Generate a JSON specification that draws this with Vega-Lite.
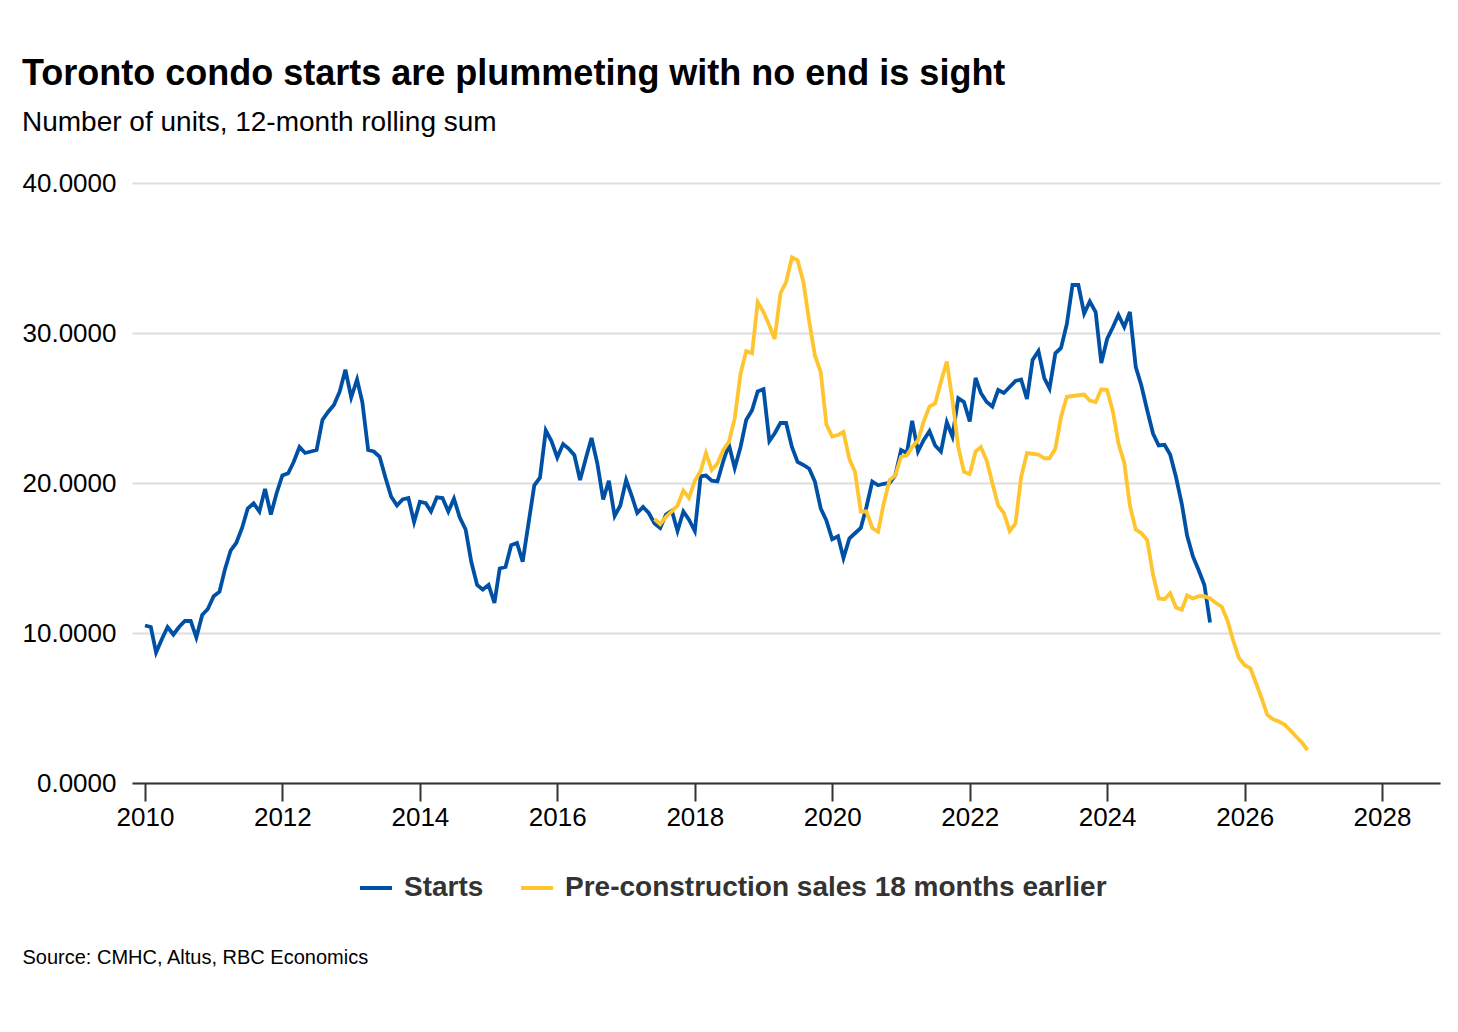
{
  "$schema": "https://vega.github.io/schema/vega-lite/v6.json",
  "width": 1308,
  "height": 600,
  "padding": {"left": 22, "top": 56, "right": 18, "bottom": 20},
  "background": "white",
  "title": {
    "text": "Toronto condo starts are plummeting with no end is sight",
    "subtitle": "Number of units, 12-month rolling sum",
    "anchor": "start",
    "frame": "bounds",
    "fontSize": 36,
    "fontWeight": "bold",
    "color": "#000000",
    "subtitleFontSize": 28,
    "subtitleColor": "#000000",
    "subtitlePadding": 16,
    "offset": 32
  },
  "config": {
    "font": "Liberation Sans",
    "view": {"stroke": null},
    "axis": {"labelColor": "#000000", "labelFont": "Liberation Sans"}
  },
  "data": {
    "values": [
      {"date": "2010/01/01", "Starts": 10.5},
      {"date": "2010/02/01", "Starts": 10.4},
      {"date": "2010/03/01", "Starts": 8.7},
      {"date": "2010/04/01", "Starts": 9.6},
      {"date": "2010/05/01", "Starts": 10.4},
      {"date": "2010/06/01", "Starts": 9.9},
      {"date": "2010/07/01", "Starts": 10.4},
      {"date": "2010/08/01", "Starts": 10.8},
      {"date": "2010/09/01", "Starts": 10.8},
      {"date": "2010/10/01", "Starts": 9.7},
      {"date": "2010/11/01", "Starts": 11.2},
      {"date": "2010/12/01", "Starts": 11.6},
      {"date": "2011/01/01", "Starts": 12.45},
      {"date": "2011/02/01", "Starts": 12.75},
      {"date": "2011/03/01", "Starts": 14.2},
      {"date": "2011/04/01", "Starts": 15.5},
      {"date": "2011/05/01", "Starts": 16.0},
      {"date": "2011/06/01", "Starts": 17.0},
      {"date": "2011/07/01", "Starts": 18.3},
      {"date": "2011/08/01", "Starts": 18.65},
      {"date": "2011/09/01", "Starts": 18.1},
      {"date": "2011/10/01", "Starts": 19.6},
      {"date": "2011/11/01", "Starts": 17.9},
      {"date": "2011/12/01", "Starts": 19.3},
      {"date": "2012/01/01", "Starts": 20.5},
      {"date": "2012/02/01", "Starts": 20.65},
      {"date": "2012/03/01", "Starts": 21.4},
      {"date": "2012/04/01", "Starts": 22.4},
      {"date": "2012/05/01", "Starts": 22.0},
      {"date": "2012/06/01", "Starts": 22.1},
      {"date": "2012/07/01", "Starts": 22.2},
      {"date": "2012/08/01", "Starts": 24.2},
      {"date": "2012/09/01", "Starts": 24.75},
      {"date": "2012/10/01", "Starts": 25.2},
      {"date": "2012/11/01", "Starts": 26.1},
      {"date": "2012/12/01", "Starts": 27.55},
      {"date": "2013/01/01", "Starts": 25.7},
      {"date": "2013/02/01", "Starts": 26.9},
      {"date": "2013/03/01", "Starts": 25.4},
      {"date": "2013/04/01", "Starts": 22.2},
      {"date": "2013/05/01", "Starts": 22.1},
      {"date": "2013/06/01", "Starts": 21.75},
      {"date": "2013/07/01", "Starts": 20.4},
      {"date": "2013/08/01", "Starts": 19.1},
      {"date": "2013/09/01", "Starts": 18.5},
      {"date": "2013/10/01", "Starts": 18.9},
      {"date": "2013/11/01", "Starts": 19.0},
      {"date": "2013/12/01", "Starts": 17.4},
      {"date": "2014/01/01", "Starts": 18.75},
      {"date": "2014/02/01", "Starts": 18.65},
      {"date": "2014/03/01", "Starts": 18.1},
      {"date": "2014/04/01", "Starts": 19.05},
      {"date": "2014/05/01", "Starts": 19.0},
      {"date": "2014/06/01", "Starts": 18.1},
      {"date": "2014/07/01", "Starts": 18.95},
      {"date": "2014/08/01", "Starts": 17.7},
      {"date": "2014/09/01", "Starts": 16.9},
      {"date": "2014/10/01", "Starts": 14.75},
      {"date": "2014/11/01", "Starts": 13.2},
      {"date": "2014/12/01", "Starts": 12.9},
      {"date": "2015/01/01", "Starts": 13.2},
      {"date": "2015/02/01", "Starts": 12.0},
      {"date": "2015/03/01", "Starts": 14.3},
      {"date": "2015/04/01", "Starts": 14.4},
      {"date": "2015/05/01", "Starts": 15.85},
      {"date": "2015/06/01", "Starts": 16.0},
      {"date": "2015/07/01", "Starts": 14.75},
      {"date": "2015/08/01", "Starts": 17.3},
      {"date": "2015/09/01", "Starts": 19.85},
      {"date": "2015/10/01", "Starts": 20.35},
      {"date": "2015/11/01", "Starts": 23.5},
      {"date": "2015/12/01", "Starts": 22.8},
      {"date": "2016/01/01", "Starts": 21.7},
      {"date": "2016/02/01", "Starts": 22.6},
      {"date": "2016/03/01", "Starts": 22.3},
      {"date": "2016/04/01", "Starts": 21.85},
      {"date": "2016/05/01", "Starts": 20.2},
      {"date": "2016/06/01", "Starts": 21.65},
      {"date": "2016/07/01", "Starts": 23.0},
      {"date": "2016/08/01", "Starts": 21.3},
      {"date": "2016/09/01", "Starts": 18.9},
      {"date": "2016/10/01", "Starts": 20.15},
      {"date": "2016/11/01", "Starts": 17.8},
      {"date": "2016/12/01", "Starts": 18.5},
      {"date": "2017/01/01", "Starts": 20.2},
      {"date": "2017/02/01", "Starts": 19.1},
      {"date": "2017/03/01", "Starts": 18.0},
      {"date": "2017/04/01", "Starts": 18.4},
      {"date": "2017/05/01", "Starts": 18.0},
      {"date": "2017/06/01", "Starts": 17.3, "Pre-construction sales 18 months earlier": 17.6},
      {"date": "2017/07/01", "Starts": 17.0, "Pre-construction sales 18 months earlier": 17.25},
      {"date": "2017/08/01", "Starts": 17.9, "Pre-construction sales 18 months earlier": 17.75},
      {"date": "2017/09/01", "Starts": 18.15, "Pre-construction sales 18 months earlier": 18.1},
      {"date": "2017/10/01", "Starts": 16.8, "Pre-construction sales 18 months earlier": 18.5},
      {"date": "2017/11/01", "Starts": 18.1, "Pre-construction sales 18 months earlier": 19.5},
      {"date": "2017/12/01", "Starts": 17.55, "Pre-construction sales 18 months earlier": 19.0},
      {"date": "2018/01/01", "Starts": 16.8, "Pre-construction sales 18 months earlier": 20.15},
      {"date": "2018/02/01", "Starts": 20.45, "Pre-construction sales 18 months earlier": 20.8},
      {"date": "2018/03/01", "Starts": 20.5, "Pre-construction sales 18 months earlier": 22.0},
      {"date": "2018/04/01", "Starts": 20.15, "Pre-construction sales 18 months earlier": 20.87},
      {"date": "2018/05/01", "Starts": 20.1, "Pre-construction sales 18 months earlier": 21.3},
      {"date": "2018/06/01", "Starts": 21.45, "Pre-construction sales 18 months earlier": 22.2},
      {"date": "2018/07/01", "Starts": 22.55, "Pre-construction sales 18 months earlier": 22.75},
      {"date": "2018/08/01", "Starts": 21.0, "Pre-construction sales 18 months earlier": 24.3},
      {"date": "2018/09/01", "Starts": 22.4, "Pre-construction sales 18 months earlier": 27.3},
      {"date": "2018/10/01", "Starts": 24.2, "Pre-construction sales 18 months earlier": 28.8},
      {"date": "2018/11/01", "Starts": 24.85, "Pre-construction sales 18 months earlier": 28.65},
      {"date": "2018/12/01", "Starts": 26.1, "Pre-construction sales 18 months earlier": 32.05},
      {"date": "2019/01/01", "Starts": 26.25, "Pre-construction sales 18 months earlier": 31.4},
      {"date": "2019/02/01", "Starts": 22.8, "Pre-construction sales 18 months earlier": 30.5},
      {"date": "2019/03/01", "Starts": 23.3, "Pre-construction sales 18 months earlier": 29.6},
      {"date": "2019/04/01", "Starts": 24.0, "Pre-construction sales 18 months earlier": 32.65},
      {"date": "2019/05/01", "Starts": 24.0, "Pre-construction sales 18 months earlier": 33.4},
      {"date": "2019/06/01", "Starts": 22.4, "Pre-construction sales 18 months earlier": 35.05},
      {"date": "2019/07/01", "Starts": 21.4, "Pre-construction sales 18 months earlier": 34.85},
      {"date": "2019/08/01", "Starts": 21.2, "Pre-construction sales 18 months earlier": 33.4},
      {"date": "2019/09/01", "Starts": 20.95, "Pre-construction sales 18 months earlier": 30.75},
      {"date": "2019/10/01", "Starts": 20.1, "Pre-construction sales 18 months earlier": 28.5},
      {"date": "2019/11/01", "Starts": 18.3, "Pre-construction sales 18 months earlier": 27.4},
      {"date": "2019/12/01", "Starts": 17.5, "Pre-construction sales 18 months earlier": 23.9},
      {"date": "2020/01/01", "Starts": 16.25, "Pre-construction sales 18 months earlier": 23.1},
      {"date": "2020/02/01", "Starts": 16.45, "Pre-construction sales 18 months earlier": 23.2},
      {"date": "2020/03/01", "Starts": 15.0, "Pre-construction sales 18 months earlier": 23.4},
      {"date": "2020/04/01", "Starts": 16.3, "Pre-construction sales 18 months earlier": 21.6},
      {"date": "2020/05/01", "Starts": 16.65, "Pre-construction sales 18 months earlier": 20.75},
      {"date": "2020/06/01", "Starts": 17.0, "Pre-construction sales 18 months earlier": 18.1},
      {"date": "2020/07/01", "Starts": 18.4, "Pre-construction sales 18 months earlier": 18.1},
      {"date": "2020/08/01", "Starts": 20.1, "Pre-construction sales 18 months earlier": 17.0},
      {"date": "2020/09/01", "Starts": 19.85, "Pre-construction sales 18 months earlier": 16.75},
      {"date": "2020/10/01", "Starts": 19.95, "Pre-construction sales 18 months earlier": 18.65},
      {"date": "2020/11/01", "Starts": 20.0, "Pre-construction sales 18 months earlier": 20.2},
      {"date": "2020/12/01", "Starts": 20.5, "Pre-construction sales 18 months earlier": 20.5},
      {"date": "2021/01/01", "Starts": 22.2, "Pre-construction sales 18 months earlier": 21.75},
      {"date": "2021/02/01", "Starts": 22.0, "Pre-construction sales 18 months earlier": 21.85},
      {"date": "2021/03/01", "Starts": 24.15, "Pre-construction sales 18 months earlier": 22.4},
      {"date": "2021/04/01", "Starts": 22.1, "Pre-construction sales 18 months earlier": 22.85},
      {"date": "2021/05/01", "Starts": 22.85, "Pre-construction sales 18 months earlier": 24.1},
      {"date": "2021/06/01", "Starts": 23.45, "Pre-construction sales 18 months earlier": 25.1},
      {"date": "2021/07/01", "Starts": 22.5, "Pre-construction sales 18 months earlier": 25.3},
      {"date": "2021/08/01", "Starts": 22.1, "Pre-construction sales 18 months earlier": 26.75},
      {"date": "2021/09/01", "Starts": 24.05, "Pre-construction sales 18 months earlier": 28.1},
      {"date": "2021/10/01", "Starts": 23.1, "Pre-construction sales 18 months earlier": 25.5},
      {"date": "2021/11/01", "Starts": 25.65, "Pre-construction sales 18 months earlier": 22.4},
      {"date": "2021/12/01", "Starts": 25.4, "Pre-construction sales 18 months earlier": 20.75},
      {"date": "2022/01/01", "Starts": 24.1, "Pre-construction sales 18 months earlier": 20.6},
      {"date": "2022/02/01", "Starts": 27.0, "Pre-construction sales 18 months earlier": 22.1},
      {"date": "2022/03/01", "Starts": 26.0, "Pre-construction sales 18 months earlier": 22.4},
      {"date": "2022/04/01", "Starts": 25.4, "Pre-construction sales 18 months earlier": 21.5},
      {"date": "2022/05/01", "Starts": 25.1, "Pre-construction sales 18 months earlier": 20.0},
      {"date": "2022/06/01", "Starts": 26.2, "Pre-construction sales 18 months earlier": 18.5},
      {"date": "2022/07/01", "Starts": 26.0, "Pre-construction sales 18 months earlier": 18.0},
      {"date": "2022/08/01", "Starts": 26.4, "Pre-construction sales 18 months earlier": 16.8},
      {"date": "2022/09/01", "Starts": 26.8, "Pre-construction sales 18 months earlier": 17.3},
      {"date": "2022/10/01", "Starts": 26.9, "Pre-construction sales 18 months earlier": 20.4},
      {"date": "2022/11/01", "Starts": 25.6, "Pre-construction sales 18 months earlier": 22.0},
      {"date": "2022/12/01", "Starts": 28.2, "Pre-construction sales 18 months earlier": 21.95},
      {"date": "2023/01/01", "Starts": 28.8, "Pre-construction sales 18 months earlier": 21.9},
      {"date": "2023/02/01", "Starts": 27.0, "Pre-construction sales 18 months earlier": 21.65},
      {"date": "2023/03/01", "Starts": 26.3, "Pre-construction sales 18 months earlier": 21.65},
      {"date": "2023/04/01", "Starts": 28.65, "Pre-construction sales 18 months earlier": 22.3},
      {"date": "2023/05/01", "Starts": 29.0, "Pre-construction sales 18 months earlier": 24.4},
      {"date": "2023/06/01", "Starts": 30.6, "Pre-construction sales 18 months earlier": 25.75},
      {"date": "2023/07/01", "Starts": 33.2, "Pre-construction sales 18 months earlier": 25.8},
      {"date": "2023/08/01", "Starts": 33.2, "Pre-construction sales 18 months earlier": 25.85},
      {"date": "2023/09/01", "Starts": 31.3, "Pre-construction sales 18 months earlier": 25.9},
      {"date": "2023/10/01", "Starts": 32.1, "Pre-construction sales 18 months earlier": 25.5},
      {"date": "2023/11/01", "Starts": 31.4, "Pre-construction sales 18 months earlier": 25.4},
      {"date": "2023/12/01", "Starts": 28.0, "Pre-construction sales 18 months earlier": 26.25},
      {"date": "2024/01/01", "Starts": 29.6, "Pre-construction sales 18 months earlier": 26.2},
      {"date": "2024/02/01", "Starts": 30.4, "Pre-construction sales 18 months earlier": 24.75},
      {"date": "2024/03/01", "Starts": 31.2, "Pre-construction sales 18 months earlier": 22.65},
      {"date": "2024/04/01", "Starts": 30.4, "Pre-construction sales 18 months earlier": 21.35},
      {"date": "2024/05/01", "Starts": 31.4, "Pre-construction sales 18 months earlier": 18.5},
      {"date": "2024/06/01", "Starts": 27.75, "Pre-construction sales 18 months earlier": 16.9},
      {"date": "2024/07/01", "Starts": 26.5, "Pre-construction sales 18 months earlier": 16.65},
      {"date": "2024/08/01", "Starts": 24.85, "Pre-construction sales 18 months earlier": 16.2},
      {"date": "2024/09/01", "Starts": 23.3, "Pre-construction sales 18 months earlier": 13.9},
      {"date": "2024/10/01", "Starts": 22.5, "Pre-construction sales 18 months earlier": 12.3},
      {"date": "2024/11/01", "Starts": 22.55, "Pre-construction sales 18 months earlier": 12.25},
      {"date": "2024/12/01", "Starts": 21.9, "Pre-construction sales 18 months earlier": 12.65},
      {"date": "2025/01/01", "Starts": 20.4, "Pre-construction sales 18 months earlier": 11.7},
      {"date": "2025/02/01", "Starts": 18.6, "Pre-construction sales 18 months earlier": 11.55},
      {"date": "2025/03/01", "Starts": 16.5, "Pre-construction sales 18 months earlier": 12.5},
      {"date": "2025/04/01", "Starts": 15.1, "Pre-construction sales 18 months earlier": 12.3},
      {"date": "2025/05/01", "Starts": 14.2, "Pre-construction sales 18 months earlier": 12.45},
      {"date": "2025/06/01", "Starts": 13.2, "Pre-construction sales 18 months earlier": 12.45},
      {"date": "2025/07/01", "Starts": 10.7, "Pre-construction sales 18 months earlier": 12.3},
      {"date": "2025/08/01", "Pre-construction sales 18 months earlier": 12.0},
      {"date": "2025/09/01", "Pre-construction sales 18 months earlier": 11.75},
      {"date": "2025/10/01", "Pre-construction sales 18 months earlier": 10.85},
      {"date": "2025/11/01", "Pre-construction sales 18 months earlier": 9.5},
      {"date": "2025/12/01", "Pre-construction sales 18 months earlier": 8.35},
      {"date": "2026/01/01", "Pre-construction sales 18 months earlier": 7.85},
      {"date": "2026/02/01", "Pre-construction sales 18 months earlier": 7.65},
      {"date": "2026/03/01", "Pre-construction sales 18 months earlier": 6.7},
      {"date": "2026/04/01", "Pre-construction sales 18 months earlier": 5.65},
      {"date": "2026/05/01", "Pre-construction sales 18 months earlier": 4.55},
      {"date": "2026/06/01", "Pre-construction sales 18 months earlier": 4.25},
      {"date": "2026/07/01", "Pre-construction sales 18 months earlier": 4.1},
      {"date": "2026/08/01", "Pre-construction sales 18 months earlier": 3.9},
      {"date": "2026/09/01", "Pre-construction sales 18 months earlier": 3.5},
      {"date": "2026/10/01", "Pre-construction sales 18 months earlier": 3.1},
      {"date": "2026/11/01", "Pre-construction sales 18 months earlier": 2.7},
      {"date": "2026/12/01", "Pre-construction sales 18 months earlier": 2.2}
    ]
  },
  "transform": [
    {"fold": ["Starts", "Pre-construction sales 18 months earlier"], "as": ["series", "units"]}
  ],
  "mark": {"type": "line", "strokeWidth": 3.8, "clip": false},
  "encoding": {
    "x": {
      "field": "date",
      "type": "temporal",
      "scale": {"domain": [{"year": 2009, "month": 10, "date": 24}, {"year": 2028, "month": 11, "date": 4}]},
      "axis": {
        "title": "Source: CMHC, Altus, RBC Economics",
        "titleX": -110,
        "titleY": 180,
        "titleAlign": "left",
        "titleAnchor": null,
        "titleBaseline": "alphabetic",
        "titleFontSize": 20,
        "titleFontWeight": "normal",
        "titleColor": "#000000",
        "format": "%Y",
        "tickCount": {"interval": "year", "step": 2},
        "grid": false,
        "domainColor": "#333333",
        "domainWidth": 2,
        "tickColor": "#333333",
        "tickWidth": 2,
        "tickSize": 18,
        "labelFontSize": 26,
        "labelPadding": 3
      }
    },
    "y": {
      "field": "units",
      "type": "quantitative",
      "scale": {"domain": [0, 40]},
      "axis": {
        "title": null,
        "values": [0, 10, 20, 30, 40],
        "format": ".4f",
        "domain": false,
        "ticks": false,
        "grid": true,
        "gridColor": "#DDDDDD",
        "gridWidth": 2,
        "labelFontSize": 26,
        "labelPadding": 16
      }
    },
    "color": {
      "field": "series",
      "type": "nominal",
      "scale": {"domain": ["Starts", "Pre-construction sales 18 months earlier"], "range": ["#0051A5", "#FFC52F"]},
      "legend": {
        "title": null,
        "orient": "none",
        "direction": "horizontal",
        "legendX": 226,
        "legendY": 687,
        "symbolType": "stroke",
        "symbolSize": 1024,
        "symbolStrokeWidth": 4,
        "labelFontSize": 28,
        "labelFontWeight": "bold",
        "labelColor": "#333333",
        "labelOffset": 10,
        "labelLimit": 0,
        "columnPadding": 29
      }
    }
  }
}
